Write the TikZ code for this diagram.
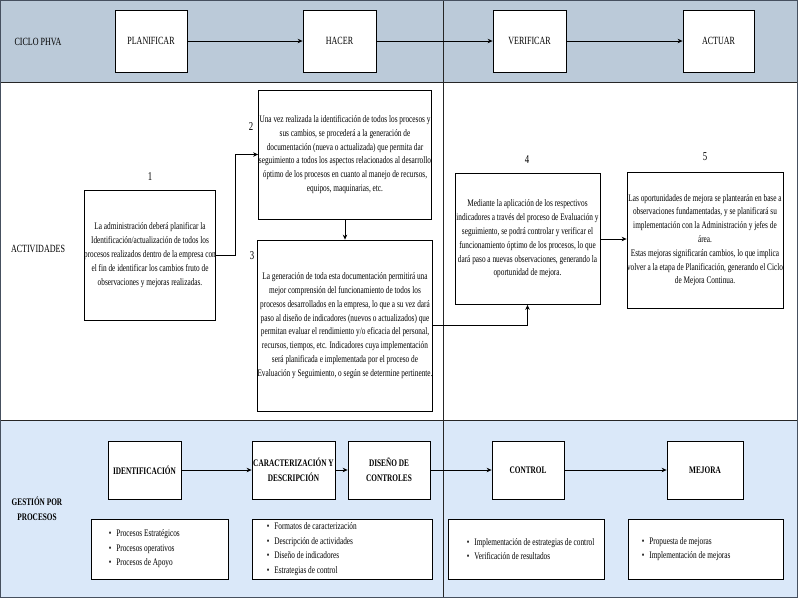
\documentclass[tikz,border=0pt]{standalone}
\usepackage{fontspec}
\setmainfont[FakeStretch=0.73]{Liberation Serif}
\usetikzlibrary{arrows.meta}
\definecolor{topband}{RGB}{187,202,217}
\definecolor{botband}{RGB}{218,232,249}
\definecolor{framec}{RGB}{70,80,95}
\begin{document}
\begin{tikzpicture}[x=1pt,y=-1pt,
  box/.style={draw=black, fill=white, line width=0.8pt, inner sep=0pt, align=center},
  hdr/.style={box, font=\fontsize{11}{13}\selectfont},
  bhdr/.style={box, font=\fontsize{10}{15}\selectfont\bfseries},
  actbox/.style={box, font=\fontsize{10}{13.8}\selectfont},
  numlbl/.style={font=\fontsize{12}{14}\selectfont, inner sep=0pt},
  lane/.style={font=\fontsize{11}{13}\selectfont, inner sep=0pt, align=center},
  blane/.style={font=\fontsize{10}{15}\selectfont\bfseries, inner sep=0pt, align=center},
  bullist/.style={font=\fontsize{10}{14.5}\selectfont, inner sep=0pt, align=left, anchor=west},
  arr/.style={-{Stealth[length=5pt,width=4.5pt]}, line width=0.8pt},
  sep/.style={draw=black!85, line width=0.8pt}]
\useasboundingbox (0,0) rectangle (800,600);
% bands
\fill[topband] (0,0) rectangle (798,82);
\fill[white] (0,82) rectangle (798,420);
\fill[botband] (0,420) rectangle (798,598);
\draw[sep] (0,82) -- (798,82);
\draw[sep] (0,420) -- (798,420);
\draw[sep] (443,0) -- (443,598);
\draw[draw=framec, line width=1pt] (0.5,0.5) rectangle (797.5,597.5);

% lane labels
\node[lane] (l1) at (38,42) {CICLO PHVA};
\node[lane] (l2) at (38,249) {ACTIVIDADES};
\node[blane] (l3) at (37,509) {GESTIÓN POR\\PROCESOS};

% top row
\node[hdr, minimum width=72, minimum height=62] (plan) at (151,41) {PLANIFICAR};
\node[hdr, minimum width=73, minimum height=62] (hacer) at (339.5,41) {HACER};
\node[hdr, minimum width=73, minimum height=62] (verif) at (529.5,41) {VERIFICAR};
\node[hdr, minimum width=71, minimum height=62] (actuar) at (718.5,41) {ACTUAR};
\draw[arr] (plan) -- (hacer);
\draw[arr] (hacer) -- (verif);
\draw[arr] (verif) -- (actuar);

% activities
\node[actbox, minimum width=130, minimum height=130] (b1) at (150,255)
 {La administración deberá planificar la\\Identificación/actualización de todos los\\procesos realizados dentro de la empresa con\\el fin de identificar los cambios fruto de\\observaciones y mejoras realizadas.};
\node[actbox, minimum width=173, minimum height=129] (b2) at (345,154.5)
 {Una vez realizada la identificación de todos los procesos y\\sus cambios, se procederá a la generación de\\documentación (nueva o actualizada) que permita dar\\seguimiento a todos los aspectos relacionados al desarrollo\\óptimo de los procesos en cuanto al manejo de recursos,\\equipos, maquinarias, etc.};
\node[actbox, minimum width=174, minimum height=171] (b3) at (345,325.5)
 {La generación de toda esta documentación permitirá una\\mejor comprensión del funcionamiento de todos los\\procesos desarrollados en la empresa, lo que a su vez dará\\paso al diseño de indicadores (nuevos o actualizados) que\\permitan evaluar el rendimiento y/o eficacia del personal,\\recursos, tiempos, etc. Indicadores cuya implementación\\será planificada e implementada por el proceso de\\Evaluación y Seguimiento, o según se determine pertinente.};
\node[actbox, minimum width=145, minimum height=131] (b4) at (527.5,239)
 {Mediante la aplicación de los respectivos\\indicadores a través del proceso de Evaluación y\\seguimiento, se podrá controlar y verificar el\\funcionamiento óptimo de los procesos, lo que\\dará paso a nuevas observaciones, generando la\\oportunidad de mejora.};
\node[actbox, minimum width=156, minimum height=136] (b5) at (705,240)
 {Las oportunidades de mejora se plantearán en base a\\observaciones fundamentadas, y se planificará su\\implementación con la Administración y jefes de\\área.\\Estas mejoras significarán cambios, lo que implica\\volver a la etapa de Planificación, generando el Ciclo\\de Mejora Continua.};

\node[numlbl] (n1) at (150,177) {1};
\node[numlbl] (n2) at (251,127) {2};
\node[numlbl] (n3) at (252,256) {3};
\node[numlbl] (n4) at (527,160) {4};
\node[numlbl] (n5) at (705,157) {5};

\draw[arr] (b1.east) -- ++(19,0) |- (b2.west);
\draw[arr] (b2.south) -- (b3.north);
\draw[arr] (b3.east) -| (b4.south);
\draw[arr] (b4.east) -- (b4.east -| b5.west);

% process management
\node[bhdr, minimum width=73, minimum height=58] (ident) at (144.5,470) {IDENTIFICACIÓN};
\node[bhdr, minimum width=83, minimum height=58] (carac) at (293.5,470) {CARACTERIZACIÓN Y\\DESCRIPCIÓN};
\node[bhdr, minimum width=82, minimum height=58] (disen) at (389,470) {DISEÑO DE\\CONTROLES};
\node[bhdr, minimum width=72, minimum height=58] (contr) at (528,470) {CONTROL};
\node[bhdr, minimum width=76, minimum height=58] (mejor) at (705,470) {MEJORA};
\draw[arr] (ident) -- (carac);
\draw[arr] (carac) -- (disen);
\draw[arr] (disen) -- (contr);
\draw[arr] (contr) -- (mejor);

\node[box, minimum width=137, minimum height=60] (bl1) at (159.5,549) {};
\node[box, minimum width=180, minimum height=60] (bl2) at (342,549) {};
\node[box, minimum width=156, minimum height=60] (bl3) at (526,549) {};
\node[box, minimum width=155, minimum height=60] (bl4) at (705.5,549) {};

\node[bullist] (t1) at ([xshift=18pt]bl1.west) {\textbullet\hspace{5pt}Procesos Estratégicos\\\textbullet\hspace{5pt}Procesos operativos\\\textbullet\hspace{5pt}Procesos de Apoyo};
\node[bullist] (t2) at ([xshift=15pt]bl2.west) {\textbullet\hspace{5pt}Formatos de caracterización\\\textbullet\hspace{5pt}Descripción de actividades\\\textbullet\hspace{5pt}Diseño de indicadores\\\textbullet\hspace{5pt}Estrategias de control};
\node[bullist] (t3) at ([xshift=19pt]bl3.west) {\textbullet\hspace{5pt}Implementación de estrategias de control\\\textbullet\hspace{5pt}Verificación de resultados};
\node[bullist] (t4) at ([xshift=14pt]bl4.west) {\textbullet\hspace{5pt}Propuesta de mejoras\\\textbullet\hspace{5pt}Implementación de mejoras};
\end{tikzpicture}
\end{document}
